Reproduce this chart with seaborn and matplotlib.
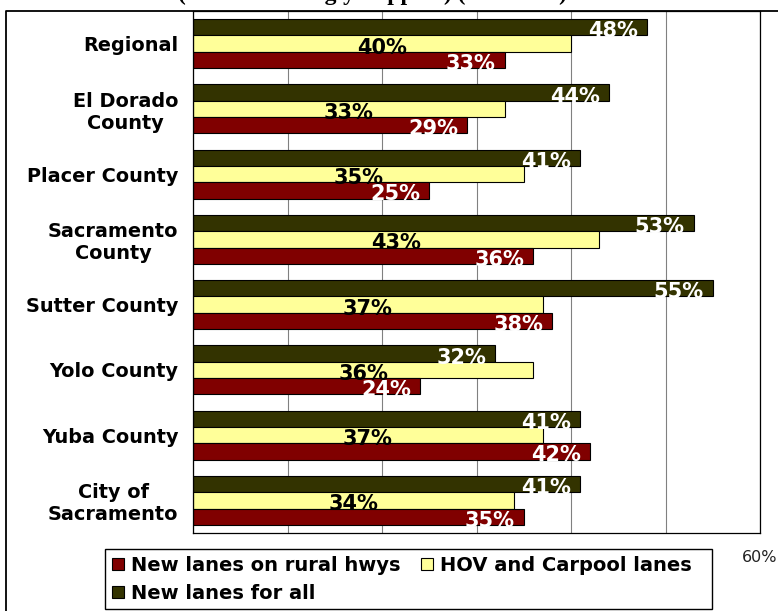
import matplotlib
matplotlib.use("Agg")
import matplotlib.pyplot as plt
import seaborn as sns
import pandas as pd
from matplotlib.lines import Line2D
from matplotlib.patches import Patch, Rectangle

# Data: percent support by area for each lane type
regions = ["Regional", "El Dorado\nCounty", "Placer County", "Sacramento\nCounty",
           "Sutter County", "Yolo County", "Yuba County", "City of\nSacramento"]
series = ["New lanes for all", "HOV and Carpool lanes", "New lanes on rural hwys"]
lanes_for_all = [48, 44, 41, 53, 55, 32, 41, 41]
hov_carpool = [40, 33, 35, 43, 37, 36, 37, 34]
rural_hwys = [33, 29, 25, 36, 38, 24, 42, 35]
x_ticks = [0, 10, 20, 30, 40, 50, 60]
x_tick_labels = ["0%", "10%", "20%", "30%", "40%", "50%", "60%"]

values = dict(zip(series, [lanes_for_all, hov_carpool, rural_hwys]))
colors = {"New lanes for all": "#333300",
          "HOV and Carpool lanes": "#FFFF99",
          "New lanes on rural hwys": "#800000"}
text_colors = {"New lanes for all": "white",
               "HOV and Carpool lanes": "black",
               "New lanes on rural hwys": "white"}

df = pd.DataFrame({
    "region": regions * len(series),
    "series": [s for s in series for _ in regions],
    "pct": lanes_for_all + hov_carpool + rural_hwys,
})

sns.set_theme(style="white")
plt.rcParams["font.family"] = ["DejaVu Sans"]
plt.rcParams["text.color"] = "black"

W, H = 778, 611
fig = plt.figure(figsize=(W / 100, H / 100), dpi=100)
ax = fig.add_axes([193 / W, 1 - 533 / H, (760 - 193) / W, (533 - 11) / H])

sns.barplot(data=df, y="region", x="pct", hue="series", hue_order=series,
            order=regions, palette=colors, orient="h", width=0.75, gap=0,
            saturation=1, edgecolor="black", linewidth=0.8, errorbar=None,
            legend=False, ax=ax)

ax.set_xlim(0, 60)
ax.set_ylim(len(regions) - 0.5, -0.5)
ax.set_xlabel("")
ax.set_ylabel("")

# Vertical gridlines behind the bars
ax.set_axisbelow(True)
ax.xaxis.grid(True, color="#808080", linewidth=0.8)
ax.yaxis.grid(False)

for sp in ax.spines.values():
    sp.set_visible(True)
    sp.set_color("black")
    sp.set_linewidth(0.9)

# X axis ticks
ax.set_xticks(x_ticks, labels=x_tick_labels)
ax.tick_params(axis="x", which="major", direction="out", length=5, width=0.8,
               color="black", labelsize=11.5, labelcolor="#222222", pad=7)

# Category labels centred on groups, tick marks on group boundaries
ax.set_yticks([i - 0.5 for i in range(len(regions) + 1)], labels=[])
ax.tick_params(axis="y", which="major", direction="out", length=5, width=0.8,
               color="black")
ax.set_yticks(range(len(regions)), labels=regions, minor=True)
ax.tick_params(axis="y", which="minor", length=0, pad=10.5, labelsize=13.9,
               labelcolor="black")
for lab in ax.get_yticklabels(minor=True):
    lab.set_fontweight("bold")
    lab.set_multialignment("center")

# Value labels on bars
for container, s in zip(ax.containers, series):
    for bar, v in zip(container, values[s]):
        yc = bar.get_y() + bar.get_height() / 2
        if s == "HOV and Carpool lanes":
            ax.annotate(f"{v}%", xy=(v / 2, yc), xytext=(0, -2),
                        textcoords="offset pixels", ha="center",
                        va="center_baseline", color=text_colors[s],
                        fontsize=15, fontweight="bold")
        else:
            ax.annotate(f"{v}%", xy=(v, yc), xytext=(-9, -2),
                        textcoords="offset pixels", ha="right",
                        va="center_baseline", color=text_colors[s],
                        fontsize=15, fontweight="bold")

# Chart frame
fig.add_artist(Line2D([6 / W, 6 / W, 1], [0, 1 - 11 / H, 1 - 11 / H],
                      transform=fig.transFigure, color="black", linewidth=1.3))

# Heading
fig.text(178 / W, 1.0, "(Percent Strongly Support) (All Areas)",
         fontfamily="Liberation Serif", fontweight="bold", fontsize=17,
         ha="left", va="baseline")

# Legend box
fig.add_artist(Rectangle((105 / W, 1 - 609 / H), (712 - 105) / W, (609 - 549) / H,
                         transform=fig.transFigure, facecolor="white",
                         edgecolor="black", linewidth=1.0, zorder=3))

order = ["New lanes on rural hwys", "New lanes for all", "HOV and Carpool lanes"]
handles = [Patch(facecolor=colors[s], edgecolor="black", linewidth=0.8, label=s)
           for s in order]
leg = fig.legend(handles=handles, loc="upper left",
                 bbox_to_anchor=(105 / W, 1 - 549 / H), ncol=2, frameon=False,
                 prop=dict(weight="bold", size=14), handlelength=0.62,
                 handleheight=0.62, handletextpad=0.36, columnspacing=1.05,
                 borderpad=0.36, labelspacing=0.45, borderaxespad=0,
                 labelcolor="black")
leg.set_zorder(5)

fig.savefig("out.png", dpi=100)
